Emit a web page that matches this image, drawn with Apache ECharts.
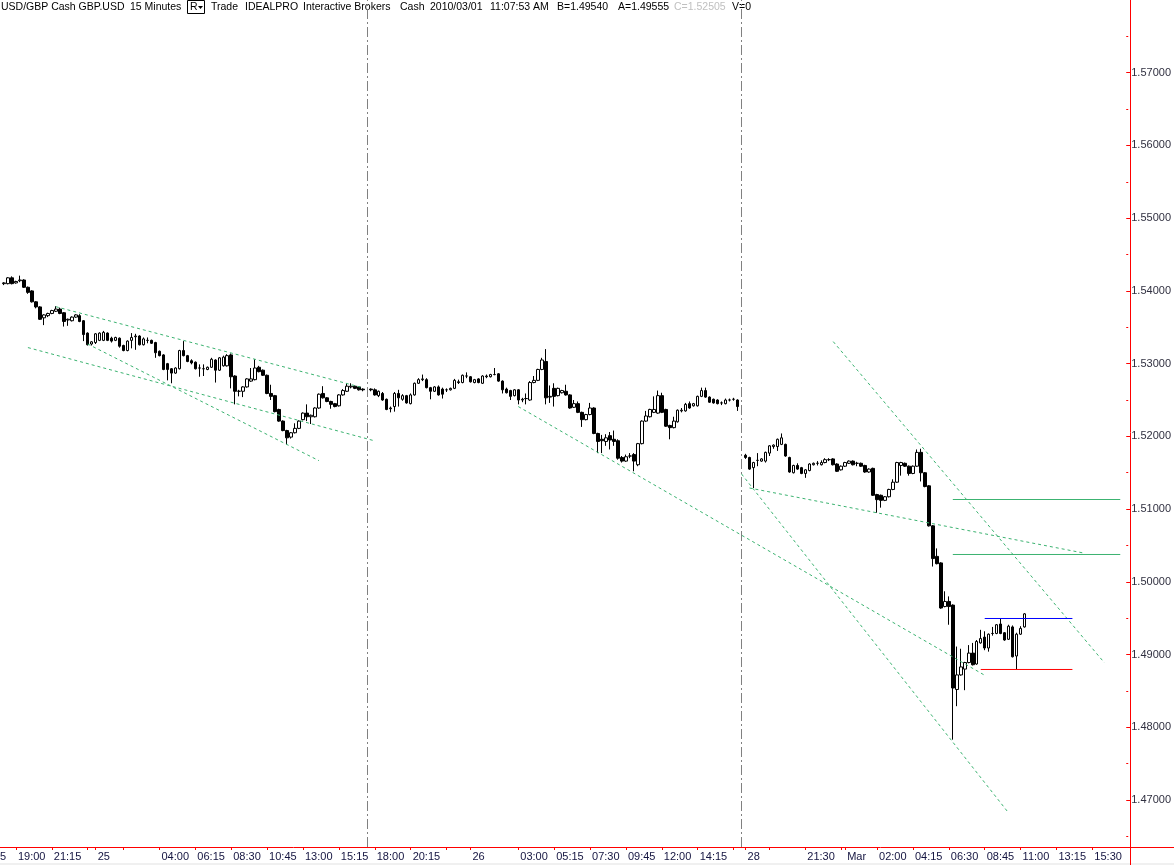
<!DOCTYPE html>
<html><head><meta charset="utf-8">
<script src="https://cdn.jsdelivr.net/npm/echarts@6/dist/echarts.min.js"></script>
<style>html,body{margin:0;padding:0;background:#fff;}#c{width:1174px;height:865px;}</style>
</head><body><div id="c"></div>
<script>
// ---------- DATA ----------
// [open, close, low, high]  session 1: 24 Feb 18:15 -> 25 Feb 16:45
const session1 = [
[1.5410,1.5411,1.5408,1.5412],[1.5410,1.5418,1.5409,1.5419],[1.5418,1.5410,1.5409,1.5420],[1.5411,1.5413,1.5410,1.5414],
[1.5414,1.5415,1.5412,1.5421],[1.5415,1.5405,1.5404,1.5416],[1.5405,1.5398,1.5396,1.5406],[1.5400,1.5385,1.5384,1.5401],
[1.5385,1.5378,1.5376,1.5386],[1.5378,1.5361,1.5360,1.5379],[1.5363,1.5367,1.5353,1.5368],[1.5366,1.5369,1.5364,1.5370],
[1.5369,1.5373,1.5368,1.5374],[1.5372,1.5375,1.5371,1.5379],[1.5375,1.5369,1.5368,1.5377],[1.5370,1.5358,1.5351,1.5371],
[1.5360,1.5361,1.5352,1.5362],[1.5359,1.5364,1.5358,1.5365],[1.5364,1.5367,1.5363,1.5368],[1.5366,1.5358,1.5357,1.5368],
[1.5359,1.5340,1.5331,1.5360],[1.5342,1.5326,1.5325,1.5343],[1.5327,1.5330,1.5325,1.5331],[1.5329,1.5341,1.5327,1.5342],
[1.5332,1.5342,1.5331,1.5343],[1.5332,1.5343,1.5331,1.5345],[1.5342,1.5332,1.5331,1.5343],[1.5335,1.5331,1.5329,1.5337],
[1.5332,1.5336,1.5331,1.5337],[1.5335,1.5324,1.5322,1.5336],[1.5325,1.5318,1.5317,1.5326],[1.5318,1.5331,1.5317,1.5332],
[1.5332,1.5336,1.5321,1.5342],[1.5337,1.5338,1.5319,1.5341],[1.5338,1.5326,1.5325,1.5339],[1.5326,1.5334,1.5325,1.5336],
[1.5332,1.5332,1.5328,1.5336],[1.5332,1.5328,1.5327,1.5333],[1.5329,1.5315,1.5308,1.5330],[1.5317,1.5311,1.5310,1.5318],
[1.5312,1.5292,1.5291,1.5313],[1.5300,1.5292,1.5277,1.5301],[1.5293,1.5287,1.5273,1.5294],[1.5287,1.5294,1.5286,1.5295],
[1.5293,1.5318,1.5292,1.5319],[1.5318,1.5311,1.5310,1.5331],[1.5311,1.5303,1.5302,1.5312],[1.5304,1.5301,1.5299,1.5306],
[1.5302,1.5293,1.5292,1.5303],[1.5294,1.5294,1.5282,1.5299],[1.5293,1.5293,1.5283,1.5299],[1.5292,1.5295,1.5291,1.5296],
[1.5295,1.5306,1.5294,1.5308],[1.5305,1.5291,1.5274,1.5306],[1.5291,1.5308,1.5290,1.5309],[1.5297,1.5309,1.5296,1.5311],
[1.5297,1.5311,1.5296,1.5313],[1.5312,1.5282,1.5266,1.5314],[1.5283,1.5262,1.5244,1.5284],[1.5262,1.5262,1.5255,1.5264],
[1.5262,1.5268,1.5254,1.5269],[1.5268,1.5279,1.5267,1.5280],[1.5276,1.5279,1.5275,1.5294],[1.5278,1.5294,1.5277,1.5306],
[1.5295,1.5289,1.5288,1.5297],[1.5291,1.5284,1.5283,1.5292],[1.5284,1.5259,1.5258,1.5285],[1.5259,1.5255,1.5250,1.5271],
[1.5256,1.5234,1.5233,1.5257],[1.5237,1.5221,1.5220,1.5238],[1.5221,1.5208,1.5207,1.5222],[1.5208,1.5198,1.5189,1.5209],
[1.5199,1.5205,1.5197,1.5206],[1.5205,1.5211,1.5204,1.5218],[1.5211,1.5221,1.5210,1.5222],[1.5223,1.5232,1.5222,1.5233],
[1.5232,1.5227,1.5221,1.5244],[1.5227,1.5229,1.5217,1.5230],[1.5227,1.5239,1.5226,1.5240],[1.5239,1.5258,1.5238,1.5259],
[1.5259,1.5253,1.5252,1.5269],[1.5253,1.5248,1.5247,1.5254],[1.5248,1.5244,1.5238,1.5249],[1.5245,1.5241,1.5240,1.5246],
[1.5242,1.5257,1.5241,1.5258],[1.5257,1.5263,1.5256,1.5265],[1.5262,1.5269,1.5261,1.5273],[1.5268,1.5269,1.5266,1.5273],
[1.5269,1.5266,1.5265,1.5270],[1.5268,1.5264,1.5263,1.5269],[1.5265,1.5264,1.5262,1.5266]
];
// session 2: 25 Feb 17:45 -> 26 Feb 16:45
const session2 = [
[1.5265,1.5264,1.5262,1.5266],[1.5264,1.5257,1.5256,1.5266],[1.5256,1.5262,1.5254,1.5263],[1.5259,1.5250,1.5249,1.5261],
[1.5251,1.5237,1.5236,1.5252],[1.5238,1.5239,1.5233,1.5241],[1.5241,1.5259,1.5234,1.5261],[1.5259,1.5253,1.5241,1.5264],
[1.5251,1.5256,1.5249,1.5258],[1.5256,1.5246,1.5245,1.5257],[1.5245,1.5257,1.5244,1.5259],[1.5257,1.5273,1.5256,1.5274],
[1.5273,1.5278,1.5272,1.5280],[1.5278,1.5279,1.5276,1.5285],[1.5278,1.5267,1.5266,1.5280],[1.5267,1.5262,1.5251,1.5268],
[1.5262,1.5268,1.5261,1.5269],[1.5268,1.5257,1.5256,1.5270],[1.5265,1.5258,1.5252,1.5267],[1.5264,1.5264,1.5261,1.5266],
[1.5264,1.5266,1.5263,1.5267],[1.5266,1.5277,1.5265,1.5279],[1.5275,1.5274,1.5272,1.5278],[1.5274,1.5284,1.5273,1.5285],
[1.5283,1.5283,1.5280,1.5288],[1.5282,1.5275,1.5274,1.5283],[1.5274,1.5278,1.5273,1.5279],[1.5279,1.5274,1.5273,1.5280],
[1.5273,1.5283,1.5272,1.5284],[1.5282,1.5283,1.5280,1.5285],[1.5282,1.5285,1.5281,1.5286],[1.5285,1.5285,1.5284,1.5294],
[1.5286,1.5276,1.5275,1.5287],[1.5276,1.5264,1.5259,1.5277],[1.5265,1.5260,1.5259,1.5267],[1.5263,1.5255,1.5250,1.5264],
[1.5256,1.5264,1.5255,1.5265],[1.5264,1.5250,1.5244,1.5265],[1.5250,1.5251,1.5247,1.5253],[1.5252,1.5252,1.5244,1.5259],
[1.5250,1.5274,1.5249,1.5276],[1.5274,1.5277,1.5273,1.5283],[1.5277,1.5292,1.5276,1.5293],[1.5292,1.5305,1.5291,1.5308],
[1.5303,1.5253,1.5244,1.5320],[1.5254,1.5255,1.5246,1.5270],[1.5266,1.5255,1.5241,1.5273],[1.5256,1.5266,1.5255,1.5267],
[1.5260,1.5263,1.5259,1.5264],[1.5262,1.5257,1.5256,1.5271],[1.5257,1.5239,1.5238,1.5258],[1.5240,1.5245,1.5239,1.5250],
[1.5245,1.5233,1.5232,1.5248],[1.5233,1.5223,1.5213,1.5234],[1.5223,1.5230,1.5222,1.5231],[1.5230,1.5239,1.5229,1.5246],
[1.5239,1.5204,1.5203,1.5240],[1.5204,1.5193,1.5177,1.5205],[1.5196,1.5194,1.5177,1.5202],[1.5193,1.5198,1.5187,1.5203],
[1.5201,1.5195,1.5182,1.5206],[1.5196,1.5193,1.5187,1.5208],[1.5194,1.5170,1.5168,1.5196],[1.5171,1.5166,1.5164,1.5173],
[1.5166,1.5172,1.5165,1.5175],[1.5173,1.5173,1.5170,1.5177],[1.5175,1.5166,1.5152,1.5177],[1.5161,1.5190,1.5159,1.5191],
[1.5190,1.5221,1.5189,1.5222],[1.5221,1.5228,1.5220,1.5235],[1.5227,1.5237,1.5226,1.5238],[1.5233,1.5237,1.5232,1.5255],
[1.5232,1.5256,1.5231,1.5263],[1.5256,1.5233,1.5232,1.5260],[1.5237,1.5214,1.5213,1.5238],[1.5215,1.5212,1.5196,1.5216],
[1.5212,1.5221,1.5211,1.5227],[1.5220,1.5236,1.5219,1.5237],[1.5235,1.5236,1.5233,1.5239],[1.5235,1.5244,1.5234,1.5246],
[1.5245,1.5239,1.5238,1.5248],[1.5242,1.5245,1.5241,1.5246],[1.5242,1.5255,1.5241,1.5256],[1.5255,1.5263,1.5254,1.5267],
[1.5263,1.5254,1.5253,1.5267],[1.5254,1.5247,1.5246,1.5255],[1.5251,1.5246,1.5245,1.5252],[1.5250,1.5245,1.5244,1.5251],
[1.5246,1.5246,1.5243,1.5248],[1.5245,1.5250,1.5244,1.5252],[1.5250,1.5250,1.5248,1.5252],[1.5251,1.5251,1.5249,1.5253],
[1.5250,1.5241,1.5235,1.5251]
];
// session 3: 28 Feb 17:45 -> 1 Mar 11:15
const session3 = [
[1.5174,1.5171,1.5169,1.5176],[1.5171,1.5155,1.5154,1.5172],[1.5157,1.5164,1.5129,1.5165],[1.5167,1.5167,1.5159,1.5177],
[1.5166,1.5169,1.5165,1.5170],[1.5166,1.5178,1.5164,1.5179],[1.5177,1.5187,1.5173,1.5188],[1.5186,1.5188,1.5183,1.5189],
[1.5186,1.5196,1.5180,1.5197],[1.5189,1.5198,1.5188,1.5204],[1.5189,1.5173,1.5172,1.5190],[1.5171,1.5151,1.5150,1.5172],
[1.5150,1.5160,1.5149,1.5161],[1.5160,1.5155,1.5154,1.5163],[1.5157,1.5149,1.5148,1.5158],[1.5149,1.5154,1.5143,1.5155],
[1.5153,1.5162,1.5152,1.5163],[1.5161,1.5163,1.5160,1.5164],[1.5163,1.5163,1.5160,1.5166],[1.5161,1.5164,1.5160,1.5167],
[1.5164,1.5168,1.5163,1.5170],[1.5168,1.5168,1.5166,1.5170],[1.5169,1.5161,1.5160,1.5170],[1.5162,1.5152,1.5151,1.5163],
[1.5154,1.5159,1.5153,1.5160],[1.5159,1.5164,1.5158,1.5165],[1.5163,1.5166,1.5162,1.5167],[1.5166,1.5161,1.5160,1.5167],
[1.5163,1.5163,1.5159,1.5165],[1.5163,1.5159,1.5158,1.5164],[1.5160,1.5151,1.5150,1.5161],[1.5151,1.5155,1.5150,1.5156],
[1.5156,1.5119,1.5118,1.5157],[1.5120,1.5113,1.5095,1.5121],[1.5119,1.5112,1.5102,1.5120],[1.5112,1.5117,1.5111,1.5118],
[1.5117,1.5127,1.5116,1.5128],[1.5127,1.5137,1.5126,1.5141],[1.5137,1.5164,1.5136,1.5165],[1.5160,1.5164,1.5146,1.5165],
[1.5163,1.5159,1.5158,1.5164],[1.5159,1.5149,1.5146,1.5160],[1.5149,1.5159,1.5148,1.5160],[1.5159,1.5178,1.5158,1.5182],
[1.5178,1.5150,1.5138,1.5183],[1.5150,1.5131,1.5130,1.5151],[1.5132,1.5077,1.5076,1.5133],[1.5077,1.5032,1.5021,1.5078],
[1.5035,1.5025,1.5024,1.5046],[1.5026,1.4964,1.4963,1.5027],[1.4966,1.4973,1.4965,1.4987],[1.4973,1.4966,1.4941,1.4980],
[1.4968,1.4854,1.4783,1.4969],[1.4852,1.4872,1.4829,1.4911],[1.4872,1.4883,1.4871,1.4908],[1.4880,1.4889,1.4851,1.4890],
[1.4889,1.4902,1.4888,1.4913],[1.4902,1.4886,1.4885,1.4916],[1.4887,1.4918,1.4886,1.4920],[1.4916,1.4922,1.4915,1.4934],
[1.4924,1.4909,1.4906,1.4932],[1.4909,1.4928,1.4904,1.4929],[1.4929,1.4929,1.4926,1.4938],[1.4929,1.4941,1.4928,1.4942],
[1.4942,1.4929,1.4928,1.4949],[1.4930,1.4920,1.4919,1.4931],[1.4921,1.4939,1.4920,1.4941],[1.4938,1.4897,1.4896,1.4940],
[1.4898,1.4928,1.4880,1.4930],[1.4928,1.4936,1.4927,1.4939],[1.4938,1.4956,1.4937,1.4957]
];
// sessions: [first day, next day, start time, number of 15-min slots on axis]
const sessionDefs = [['02-24','02-25','18:15',91],['02-25','02-26','17:45',93],['02-28','03-01','17:45',96]];

// axis tick categories and their texts ('' = tick without text)
const tickKeys = ['02-24 19:00','02-24 21:15','02-24 23:30','02-25 00:00','02-25 01:45','02-25 04:00','02-25 06:15','02-25 08:30','02-25 10:45','02-25 13:00','02-25 15:15',
 '02-25 18:00','02-25 20:15','02-25 22:30','02-26 00:00','02-26 03:00','02-26 05:15','02-26 07:30','02-26 09:45','02-26 12:00','02-26 14:15','02-26 16:30',
 '02-28 17:45','02-28 19:15','02-28 21:30','02-28 23:45','03-01 00:00','03-01 02:00','03-01 04:15','03-01 06:30','03-01 08:45','03-01 11:00','03-01 13:15','03-01 15:30'];
const tickTexts = ['19:00','21:15','','25','','04:00','06:15','08:30','10:45','13:00','15:15',
 '18:00','20:15','','26','03:00','05:15','07:30','09:45','12:00','14:15','',
 '28','','21:30','','Mar','02:00','04:15','06:30','08:45','11:00','13:15','15:30'];

const yTicks = [1.47,1.48,1.49,1.50,1.51,1.52,1.53,1.54,1.55,1.56,1.57];
const yMinorTicks = [1.465,1.475,1.485,1.495,1.505,1.515,1.525,1.535,1.545,1.555,1.565,1.575];
const yMin = 1.46354, yMax = 1.58;

// drawn trendlines: [start time, start price, end time, end price]
const dashedTrendlines = [
 ['02-24 21:30',1.53783,'02-25 16:45',1.52669],
 ['02-24 23:30',1.53270,'02-25 14:00',1.51666],
 ['02-24 19:45',1.53221,'02-25 18:00',1.51938],
 ['02-26 03:00',1.52410,'03-01 08:45',1.48715],
 ['gap2',1.51483,'03-01 10:15',1.46822],
 ['02-28 18:00',1.51290,'03-01 15:00',1.50394],
 ['02-28 23:15',1.53303,'03-01 16:15',1.48889]
];
// horizontal levels: [start time, end time, price, colour]
const levelLines = [
 ['03-01 06:45','03-01 17:15',1.51132,'#3cb371'],
 ['03-01 06:45','03-01 17:15',1.50376,'#3cb371'],
 ['03-01 08:45','03-01 14:15',1.49496,'#0000ff'],
 ['03-01 08:30','03-01 14:15',1.48795,'#ff0000']
];
const sessionBreaks = ['gap1','gap2'];

// header pieces: [text, left, colour]
const headerParts = [
 ['USD/GBP Cash GBP.USD',1,'#000'],
 ['15 Minutes',130,'#000'],
 ['Trade',211,'#000'],
 ['IDEALPRO',245,'#000'],
 ['Interactive Brokers',303,'#000'],
 ['Cash',400,'#000'],
 ['2010/03/01',430,'#000'],
 ['11:07:53 AM',490,'#000'],
 ['B=1.49540',557,'#000'],
 ['A=1.49555',618,'#000'],
 ['C=1.52505',674,'#c0c0c0'],
 ['V=0',732,'#000']
];

// ---------- BUILD ----------
function pad(n){return String(n).padStart(2,'0');}
function buildSession(d1,d2,start,count){
  const out=[]; const p=start.split(':'); const s=+p[0]*60+ +p[1];
  for(let i=0;i<count;i++){let m=s+15*i,d=d1; if(m>=1440){m-=1440;d=d2;} out.push(d+' '+pad(Math.floor(m/60))+':'+pad(m%60));}
  return out;
}
const categories = [].concat(
  buildSession(...sessionDefs[0]), ['gap1'],
  buildSession(...sessionDefs[1]), ['gap2'],
  buildSession(...sessionDefs[2]));
const gapItem = ['-','-','-','-'];
const candles = [].concat(session1,[gapItem],session2,[gapItem],session3);
const tickMap = {}; tickKeys.forEach((k,i)=>tickMap[k]=tickTexts[i]);
const labelSet = {}; tickKeys.forEach((k,i)=>{ if(tickTexts[i]) labelSet[k]=1; });

const FONT = '"Liberation Sans", Arial, sans-serif';
const HFONT = '10.5px ' + FONT;

const series = [{
  type:'candlestick', data:candles, barWidth:3,
  itemStyle:{color:'#ffffff',color0:'#000000',borderColor:'#000000',borderColor0:'#000000',borderWidth:1},
  markLine:{silent:true,symbol:['none','none'],label:{show:false},
    lineStyle:{color:'#808080',width:1,type:[10,3,2,3]},
    data:sessionBreaks.map(k=>({xAxis:k}))},
  z:3
}];
dashedTrendlines.forEach(t=>series.push({type:'line',data:[[t[0],t[1]],[t[2],t[3]]],showSymbol:false,symbol:'none',silent:true,
  lineStyle:{color:'#3cb371',width:1,type:[3,3]},z:4}));
levelLines.forEach(t=>series.push({type:'line',data:[[t[0],t[2]],[t[1],t[2]]],showSymbol:false,symbol:'none',silent:true,
  lineStyle:{color:t[3],width:1,type:'solid'},z:4}));

const headerGraphics = headerParts.map(h=>({type:'text',x:h[1],y:2,silent:true,
    style:{text:h[0],fill:h[2],font:HFONT,textAlign:'left',textVerticalAlign:'top'}}));

const option = {
  animation:false,
  backgroundColor:'#ffffff',
  grid:{left:2,right:44,top:0,bottom:18,containLabel:false},
  xAxis:{type:'category',data:categories,boundaryGap:true,
    axisLine:{show:false},
    axisTick:{show:true,alignWithLabel:true,length:3,lineStyle:{color:'#ff0000'},interval:(i,v)=>tickMap[v]!==undefined},
    axisLabel:{show:true,interval:(i,v)=>!!labelSet[v],formatter:v=>tickMap[v]||'',align:'left',margin:4,padding:[0,0,0,2],
      color:'#141440',fontSize:11,fontFamily:FONT},
    splitLine:{show:false}},
  yAxis:[
   {type:'value',position:'right',min:yMin,max:yMax,scale:true,
    axisLine:{show:false},
    axisTick:{show:true,length:4,lineStyle:{color:'#ff0000'},customValues:yTicks},
    axisLabel:{show:true,customValues:yTicks,formatter:v=>v.toFixed(5),margin:5,color:'#303040',fontSize:11,fontFamily:FONT},
    splitLine:{show:false}},
   {type:'value',position:'right',min:yMin,max:yMax,scale:true,
    axisLine:{show:false},
    axisTick:{show:true,length:2,lineStyle:{color:'#ff0000'},customValues:yMinorTicks},
    axisLabel:{show:false},splitLine:{show:false}}
  ],
  series:series,
  graphic:[
    {type:'rect',silent:true,shape:{x:0,y:863,width:1174,height:2},style:{fill:'#f0f0f0'}},
    {type:'line',silent:true,shape:{x1:1130.5,y1:0,x2:1130.5,y2:865},style:{stroke:'#ff0000',lineWidth:1},z:10},
    {type:'line',silent:true,shape:{x1:0,y1:847.5,x2:1174,y2:847.5},style:{stroke:'#ff0000',lineWidth:1},z:10},
    {type:'text',left:0,top:851,silent:true,style:{text:'5',fill:'#141440',font:'11px '+FONT}},
    {type:'rect',silent:true,shape:{x:187.5,y:0.5,width:17,height:13},style:{fill:'#fff',stroke:'#000',lineWidth:1}},
    {type:'text',x:190,y:2,silent:true,style:{text:'R',fill:'#000',font:HFONT,textAlign:'left',textVerticalAlign:'top'}},
    {type:'polygon',silent:true,shape:{points:[[198,6],[203,6],[200.5,9]]},style:{fill:'#000'}}
  ].concat(headerGraphics)
};
const chart = echarts.init(document.getElementById('c'),null,{renderer:'canvas'});
chart.setOption(option);
</script></body></html>
